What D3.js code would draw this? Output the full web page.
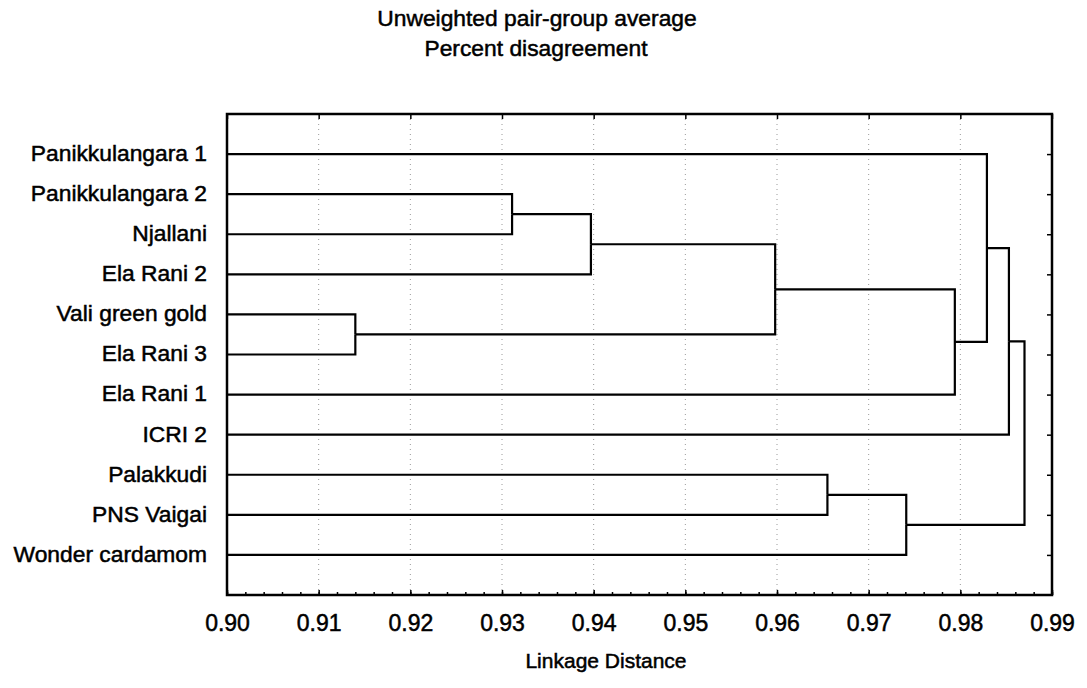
<!DOCTYPE html>
<html>
<head>
<meta charset="utf-8">
<script src="https://cdn.jsdelivr.net/npm/d3@7"></script>
<style>
  body { margin: 0; background: #fff; }
  svg text { font-family: "Liberation Sans", Arial, sans-serif; fill: #000; stroke: #000; stroke-width: 0.5px; }
</style>
</head>
<body>
<div id="chart"></div>
<script>

// leaves, top to bottom
var leaves = ["Panikkulangara 1", "Panikkulangara 2", "Njallani", "Ela Rani 2",
  "Vali green gold", "Ela Rani 3", "Ela Rani 1", "ICRI 2",
  "Palakkudi", "PNS Vaigai", "Wonder cardamom"];

// joins: [a, b, linkage distance]; cluster k gets id leaves.length + k
var joins = [
  [4, 5, 0.9140],
  [1, 2, 0.9311],
  [12, 3, 0.9397],
  [13, 11, 0.9598],
  [8, 9, 0.9655],
  [15, 10, 0.9741],
  [14, 6, 0.9794],
  [0, 17, 0.9829],
  [18, 7, 0.9853],
  [19, 16, 0.9870]
];

var tickLabels = ["0.90", "0.91", "0.92", "0.93", "0.94", "0.95", "0.96", "0.97", "0.98", "0.99"];

var width = 1087, height = 688;
var plotL = 227, plotR = 1052, plotT = 114, plotB = 595;

var svg = d3.select("#chart").append("svg")
  .attr("width", width)
  .attr("height", height);

var x = d3.scaleLinear().domain([0.90, 0.99]).range([plotL, plotR]);
var y = d3.scalePoint().domain(leaves).range([plotT, plotB]).padding(1);

// build the tree from the joins
var nodes = leaves.map(function(name) { return { name: name, h: 0.90 }; });
joins.forEach(function(j) {
  nodes.push({ children: [nodes[j[0]], nodes[j[1]]], h: j[2] });
});
var root = d3.hierarchy(nodes[nodes.length - 1]);
root.eachAfter(function(d) {
  d.px = x(d.data.h);
  d.py = d.children ? d3.mean(d.children, function(c) { return c.py; }) : y(d.data.name);
});

// grid
svg.append("g").selectAll("line")
  .data(tickLabels.slice(1, -1))
  .enter().append("line")
  .attr("x1", function(d) { return x(+d); })
  .attr("x2", function(d) { return x(+d); })
  .attr("y1", plotT)
  .attr("y2", plotB)
  .attr("stroke", "#999")
  .attr("stroke-width", 1)
  .attr("stroke-dasharray", "1,4");

// dendrogram
svg.append("g").selectAll("path")
  .data(root.links())
  .enter().append("path")
  .attr("d", function(l) {
    return "M" + l.target.px + "," + l.target.py + "H" + l.source.px + "V" + l.source.py;
  })
  .attr("fill", "none")
  .attr("stroke", "#000")
  .attr("stroke-width", 2.2);

// axes (ticks inside)
var xBottom = d3.axisBottom(x).tickValues(tickLabels.map(Number)).tickSize(-5).tickFormat(d3.format(".2f")).tickPadding(20);
var xBottomMinor = d3.axisBottom(x).tickValues(d3.range(0, 46).map(function(i) { return 0.90 + i * 0.002; })).tickSize(-3).tickFormat("");
var xTop = d3.axisTop(x).tickValues(tickLabels.map(Number)).tickSize(-5).tickFormat("");
var yRight = d3.axisRight(y).tickSize(-5).tickFormat("");

var gb = svg.append("g").attr("transform", "translate(0," + plotB + ")").call(xBottom);
svg.append("g").attr("transform", "translate(0," + plotB + ")").call(xBottomMinor);
svg.append("g").attr("transform", "translate(0," + plotT + ")").call(xTop);
svg.append("g").attr("transform", "translate(" + plotR + ",0)").call(yRight);
svg.selectAll(".domain").remove();
svg.selectAll(".tick line").attr("stroke", "#000").attr("stroke-width", 1.5);
gb.selectAll("text").style("font-size", "23px").attr("dy", "0.71em");

// frame
svg.append("rect")
  .attr("x", plotL).attr("y", plotT)
  .attr("width", plotR - plotL).attr("height", plotB - plotT)
  .attr("fill", "none").attr("stroke", "#000").attr("stroke-width", 2.5);

// leaf labels
svg.append("g").selectAll("text")
  .data(leaves)
  .enter().append("text")
  .attr("x", 207)
  .attr("y", function(d) { return y(d); })
  .attr("dy", "0.3em")
  .attr("text-anchor", "end")
  .style("font-size", "22.8px")
  .text(function(d) { return d; });

// titles
svg.append("text").attr("x", 537).attr("y", 26).attr("text-anchor", "middle")
  .style("font-size", "22.8px").text("Unweighted pair-group average");
svg.append("text").attr("x", 536).attr("y", 56).attr("text-anchor", "middle")
  .style("font-size", "22.8px").text("Percent disagreement");
svg.append("text").attr("x", 606).attr("y", 668).attr("text-anchor", "middle")
  .style("font-size", "21px").text("Linkage Distance");

</script>
</body>
</html>
